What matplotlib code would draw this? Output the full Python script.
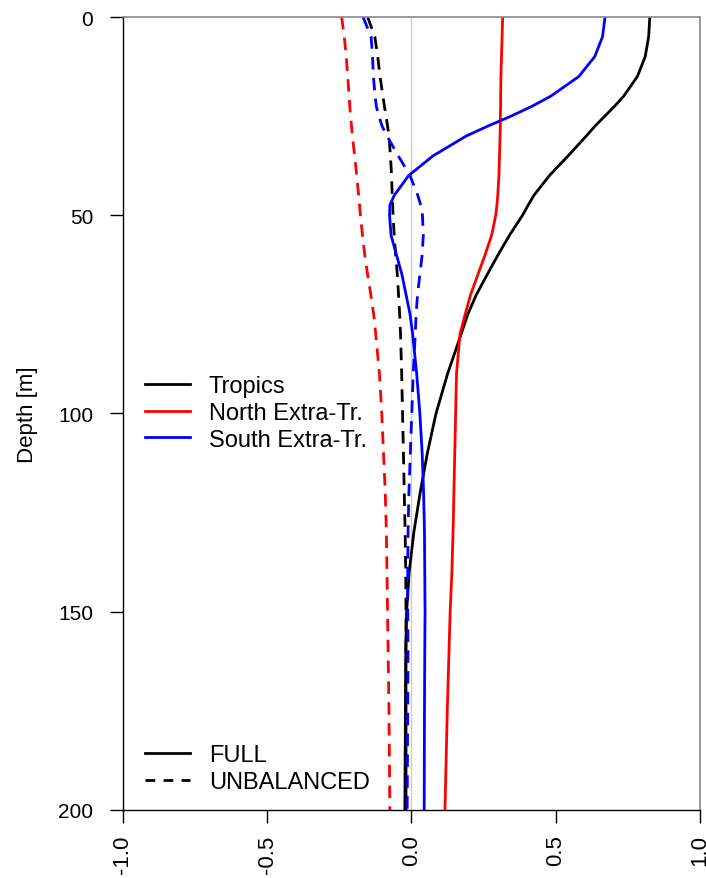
import matplotlib
matplotlib.use('Agg')
import matplotlib.pyplot as plt
from matplotlib.lines import Line2D

plt.rcParams['font.family'] = ['Liberation Sans', 'DejaVu Sans']

depth = [0, 5, 10, 15, 20, 22.5, 25, 27.5, 30, 35, 40, 45, 47.5, 50, 55, 60, 65,
         70, 75, 80, 90, 100, 110, 120, 130, 140, 150, 160, 175, 200]

# full profiles
tropics_full = [0.826, 0.822, 0.81, 0.783, 0.735, 0.704, 0.67, 0.636, 0.606, 0.543,
                0.478, 0.424, 0.404, 0.385, 0.34, 0.30, 0.262, 0.225, 0.195, 0.172,
                0.125, 0.085, 0.055, 0.03, 0.008, -0.008, -0.017, -0.02, -0.021, -0.023]
north_full = [0.316, 0.314, 0.312, 0.31, 0.309, 0.309, 0.308, 0.308, 0.307, 0.305,
              0.303, 0.299, 0.296, 0.292, 0.278, 0.255, 0.23, 0.205, 0.186, 0.168,
              0.156, 0.153, 0.15, 0.147, 0.144, 0.14, 0.134, 0.13, 0.124, 0.116]
south_full = [0.671, 0.662, 0.635, 0.58, 0.482, 0.418, 0.345, 0.265, 0.19, 0.075,
              -0.01, -0.06, -0.075, -0.076, -0.071, -0.052, -0.033, -0.019, -0.005, 0.004,
              0.018, 0.029, 0.037, 0.042, 0.045, 0.046, 0.047, 0.046, 0.045, 0.044]

# unbalanced profiles
tropics_unbal = [-0.152, -0.127, -0.117, -0.109, -0.099, -0.094, -0.088, -0.083, -0.078, -0.073,
                 -0.069, -0.067, -0.065, -0.064, -0.06, -0.055, -0.049, -0.045, -0.041, -0.038,
                 -0.034, -0.031, -0.028, -0.025, -0.022, -0.02, -0.019, -0.019, -0.019, -0.019]
north_unbal = [-0.242, -0.233, -0.226, -0.221, -0.216, -0.214, -0.211, -0.208, -0.205, -0.197,
               -0.19, -0.183, -0.18, -0.177, -0.17, -0.162, -0.152, -0.141, -0.131, -0.124,
               -0.111, -0.103, -0.097, -0.091, -0.087, -0.085, -0.083, -0.081, -0.078, -0.075]
south_unbal = [-0.168, -0.14, -0.135, -0.132, -0.126, -0.122, -0.113, -0.102, -0.085, -0.046,
               -0.005, 0.022, 0.032, 0.038, 0.041, 0.037, 0.029, 0.021, 0.016, 0.013,
               0.006, 0.001, -0.004, -0.009, -0.012, -0.013, -0.013, -0.012, -0.013, -0.015]

regions = ['Tropics', 'North Extra-Tr.', 'South Extra-Tr.']
colors = ['black', 'red', 'blue']
full = [tropics_full, north_full, south_full]
unbal = [tropics_unbal, north_unbal, south_unbal]
xticks = [-1.0, -0.5, 0.0, 0.5, 1.0]
yticks = [0, 50, 100, 150, 200]

fig = plt.figure(figsize=(7.06, 8.79), dpi=100)
ax = fig.add_axes([0.1742, 0.0774, 0.8173, 0.9021])

ax.axvline(0, color='#cccccc', lw=1.0, zorder=0)
lw = 2.0
for f, u, c in zip(full, unbal, colors):
    ax.plot(f, depth, color=c, lw=lw)
    ax.plot(u, depth, color=c, lw=lw, dashes=(4.5, 3))

ax.set_xlim(-1, 1)
ax.set_ylim(200, 0)
ax.set_xticks(xticks)
ax.set_xticklabels(['%.1f' % v for v in xticks], rotation=90, fontsize=16)
ax.set_yticks(yticks)
ax.set_yticklabels([str(v) for v in yticks], fontsize=15)
ax.tick_params(direction='out', length=9.5, width=1.0)
ax.tick_params(axis='x', pad=8)
ax.tick_params(axis='y', pad=12)
ax.set_ylabel('Depth [m]', fontsize=16)
ax.yaxis.set_label_coords(-0.148, 0.5)

for s in ['left', 'bottom']:
    ax.spines[s].set_color('black')
    ax.spines[s].set_linewidth(1.0)
for s in ['top', 'right']:
    ax.spines[s].set_color('#888888')
    ax.spines[s].set_linewidth(1.2)

h1 = [Line2D([], [], color=c, lw=lw) for c in colors]
leg1 = ax.legend(h1, regions, loc='center left', bbox_to_anchor=(0.038, 0.5006),
                 frameon=False, fontsize=17, borderpad=0, borderaxespad=0,
                 handlelength=1.9, handletextpad=0.8, labelspacing=0.2)
ax.add_artist(leg1)

h2 = [Line2D([], [], color='black', lw=lw),
      Line2D([], [], color='black', lw=lw, dashes=(3.5, 3))]
ax.legend(h2, ['FULL', 'UNBALANCED'], loc='center left', bbox_to_anchor=(0.038, 0.052),
          frameon=False, fontsize=17, borderpad=0, borderaxespad=0,
          handlelength=1.9, handletextpad=0.8, labelspacing=0.2)

fig.savefig('out.png', dpi=100)
